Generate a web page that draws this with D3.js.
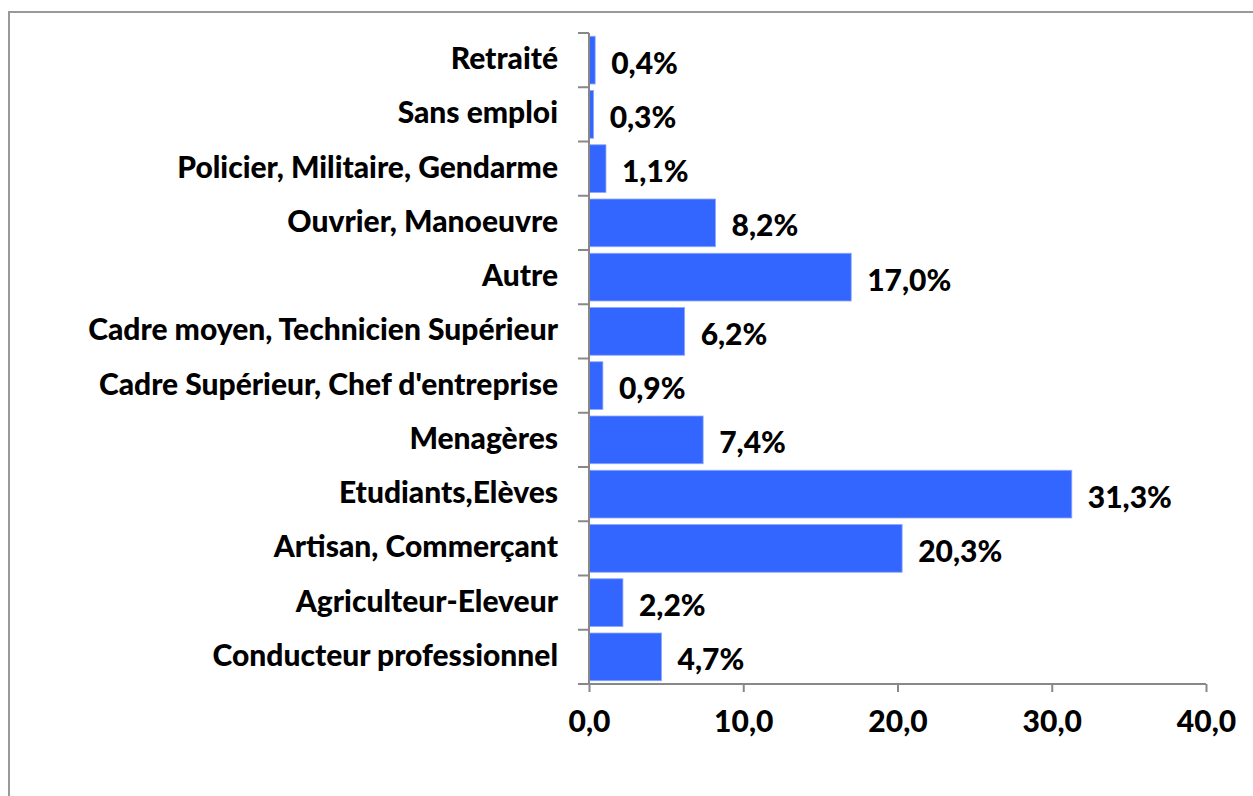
<!DOCTYPE html>
<html>
<head>
<meta charset="utf-8">
<script src="https://cdn.jsdelivr.net/npm/d3@7"></script>
<style>
  body { margin: 0; background: #fff; }
  text { font-family: Lato, "Open Sans", sans-serif; font-weight: bold; fill: #000; }
</style>
</head>
<body>
<div id="chart"></div>
<script>
// categories from top to bottom
var categories = [
    "Retraité",
    "Sans emploi",
    "Policier, Militaire, Gendarme",
    "Ouvrier, Manoeuvre",
    "Autre",
    "Cadre moyen, Technicien Supérieur",
    "Cadre Supérieur, Chef d'entreprise",
    "Menagères",
    "Etudiants,Elèves",
    "Artisan, Commerçant",
    "Agriculteur-Eleveur",
    "Conducteur professionnel"
];
var values = [0.4, 0.3, 1.1, 8.2, 17.0, 6.2, 0.9, 7.4, 31.3, 20.3, 2.2, 4.7];
var xTicks = [0, 10, 20, 30, 40];

var W = 1253, H = 796;
var margin = {top: 33, right: 47, bottom: 112, left: 589};
var width = W - margin.left - margin.right,
    height = H - margin.top - margin.bottom;
var fontSize = "30px";

var svg = d3.select("#chart").append("svg")
    .attr("width", W)
    .attr("height", H);

// outer frame (left and top edges visible)
svg.append("rect")
    .attr("x", 9)
    .attr("y", 12)
    .attr("width", W + 20)
    .attr("height", H + 20)
    .attr("fill", "none")
    .attr("stroke", "#999")
    .attr("stroke-width", 2);

var g = svg.append("g")
    .attr("transform", "translate(" + margin.left + "," + margin.top + ")");

var x = d3.scaleLinear().domain([0, 40]).range([0, width]);
var y = d3.scaleBand().domain(categories).range([0, height]).paddingInner(0.12).paddingOuter(0.06);

var fmt = function (v) { return d3.format(".1f")(v).replace(".", ","); };

// bars
g.selectAll(".bar")
    .data(values)
    .enter().append("rect")
    .attr("class", "bar")
    .attr("x", x(0))
    .attr("y", function (d, i) { return y(categories[i]); })
    .attr("width", function (d) { return x(d) - x(0); })
    .attr("height", y.bandwidth())
    .attr("fill", "#3366ff")
    .attr("stroke", "#8fa8ff")
    .attr("stroke-width", 0.8);

// value labels
g.selectAll(".val")
    .data(values)
    .enter().append("text")
    .attr("class", "val")
    .attr("x", function (d) { return x(d) + 16; })
    .attr("y", function (d, i) { return y(categories[i]) + y.bandwidth() / 2; })
    .attr("dy", "0.45em")
    .style("font-size", fontSize)
    .style("font-weight", 900)
    .text(function (d) { return fmt(d) + "%"; });

// y axis: line + ticks at category boundaries
var step = height / categories.length;
g.append("line")
    .attr("x1", 0).attr("x2", 0)
    .attr("y1", 0).attr("y2", height)
    .attr("stroke", "#888").attr("stroke-width", 2);
d3.range(categories.length + 1).forEach(function (i) {
    g.append("line")
        .attr("x1", -11).attr("x2", 0)
        .attr("y1", i * step).attr("y2", i * step)
        .attr("stroke", "#888").attr("stroke-width", 2);
});

// category labels
g.selectAll(".cat")
    .data(categories)
    .enter().append("text")
    .attr("class", "cat")
    .attr("x", -31)
    .attr("y", function (d) { return y(d) + y.bandwidth() / 2; })
    .attr("dy", "0.3em")
    .attr("text-anchor", "end")
    .style("font-size", fontSize)
    .style("font-weight", 900)
    .text(function (d) { return d; });

// x axis
var xAxis = d3.axisBottom(x)
    .tickValues(xTicks)
    .tickSize(8)
    .tickPadding(19)
    .tickFormat(fmt);

var ax = g.append("g")
    .attr("transform", "translate(0," + height + ")")
    .call(xAxis);
ax.select(".domain").attr("stroke", "#888").attr("stroke-width", 2)
    .attr("d", "M0,0H" + width);
ax.selectAll(".tick line").attr("stroke", "#888").attr("stroke-width", 2);
ax.selectAll(".tick text")
    .style("font-size", fontSize)
    .style("font-family", "Lato, 'Open Sans', sans-serif")
    .style("font-weight", 900)
    .attr("fill", "#000");
</script>
</body>
</html>
